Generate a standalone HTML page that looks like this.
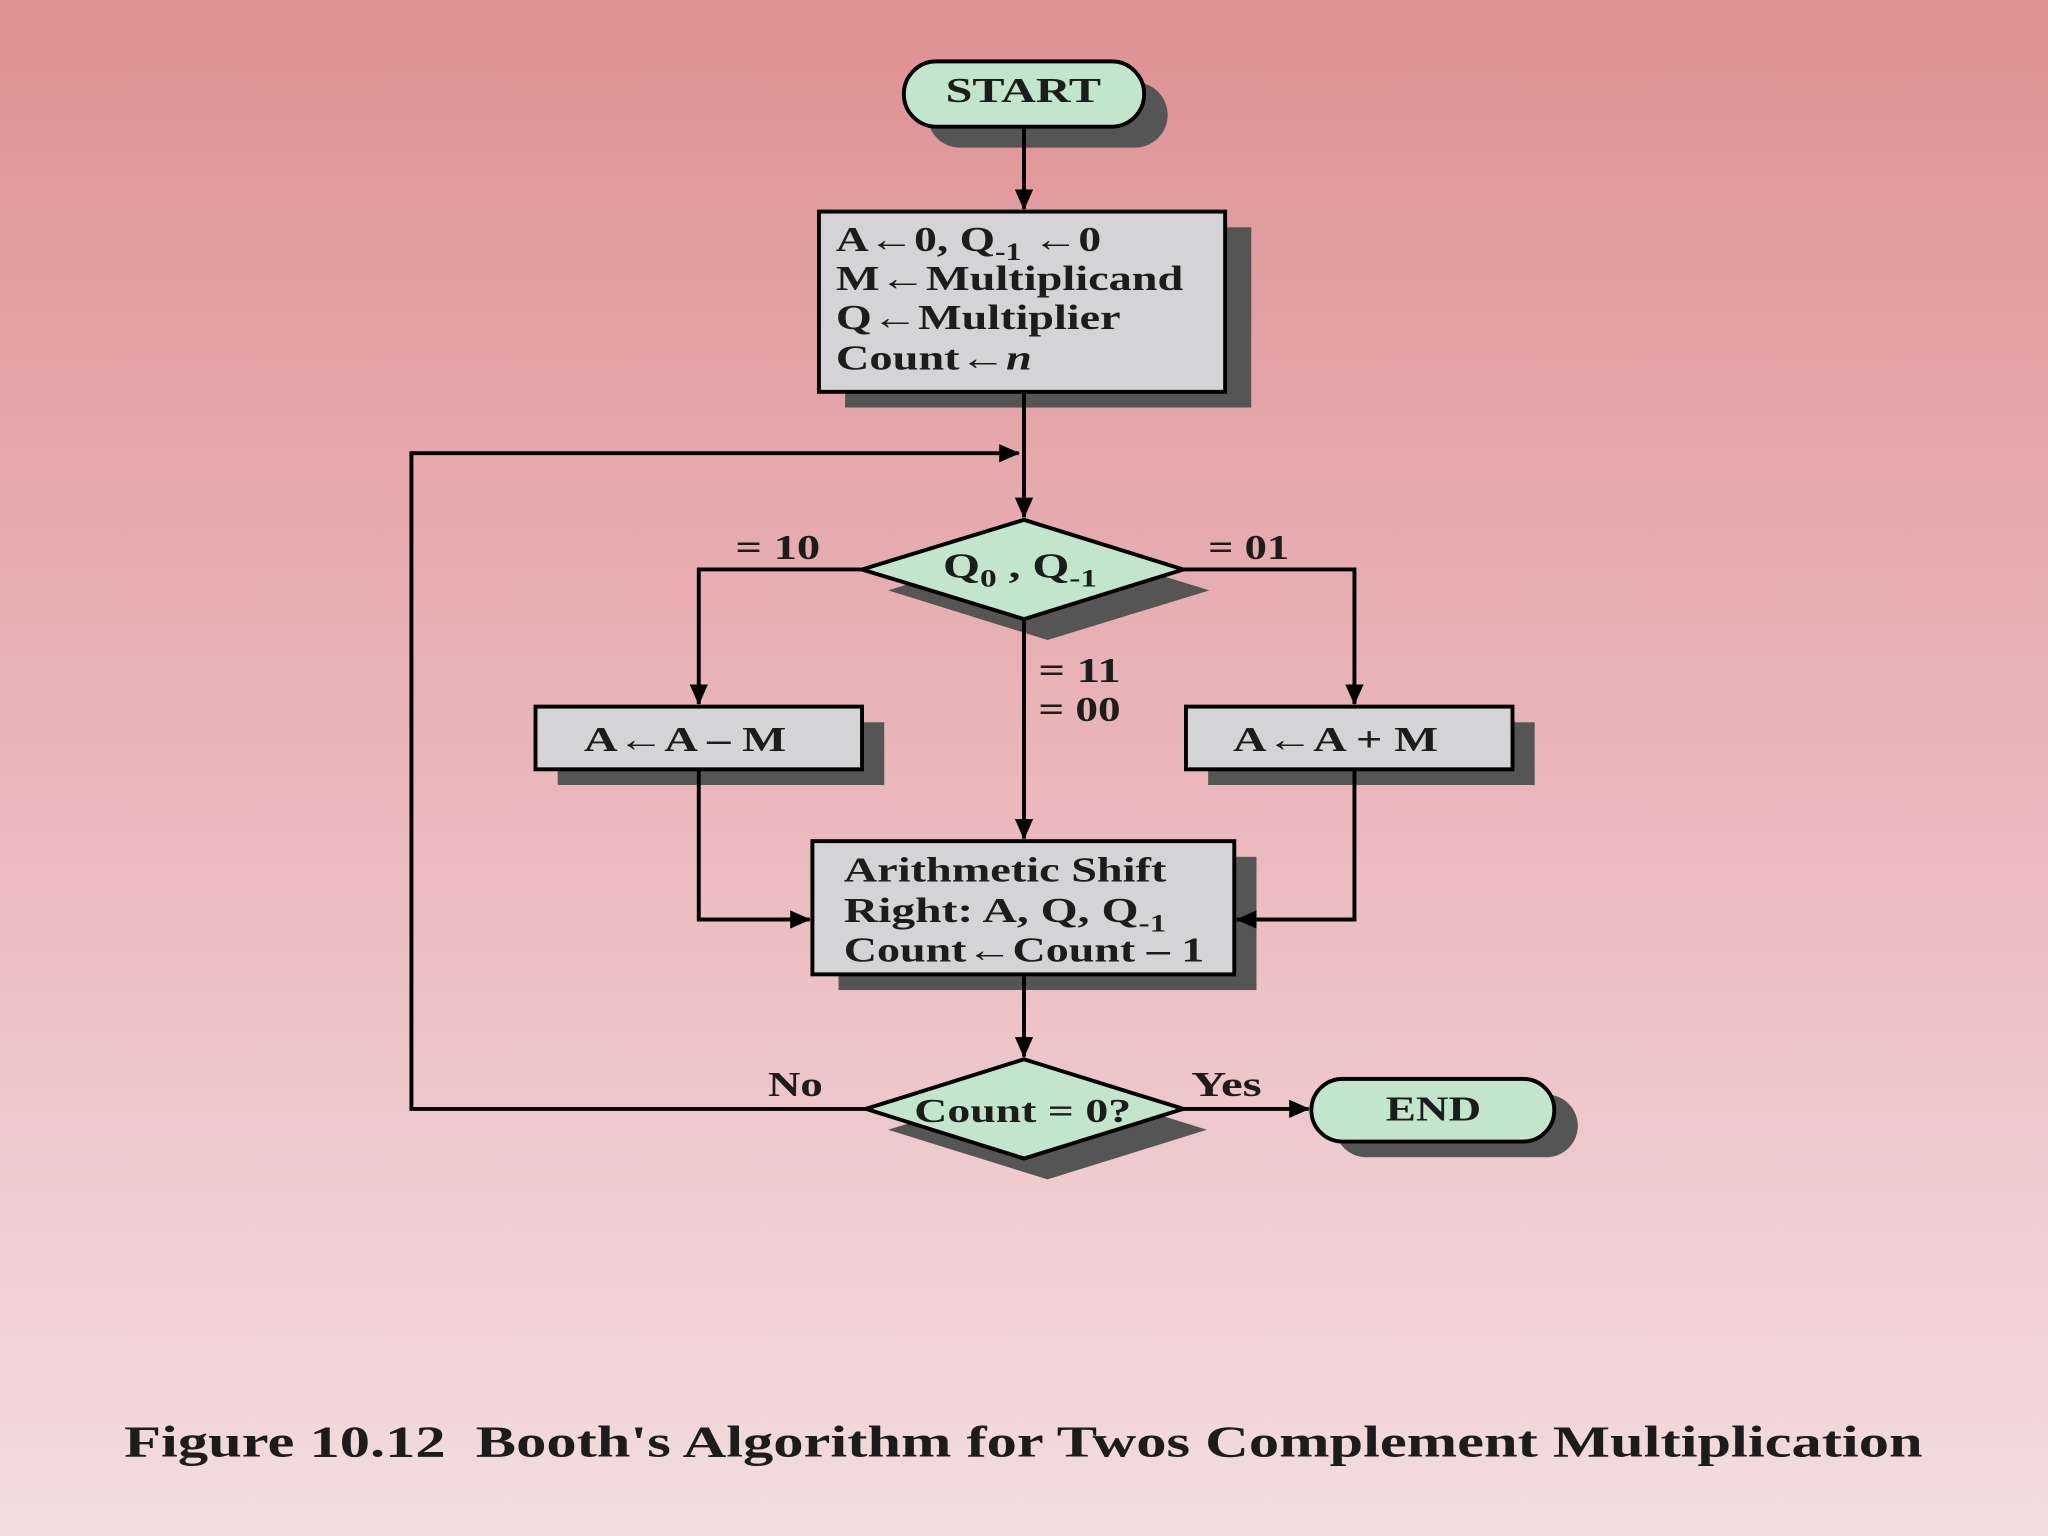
<!DOCTYPE html>
<html><head><meta charset="utf-8"><style>
html,body{margin:0;padding:0;width:2048px;height:1536px;overflow:hidden}
svg{display:block}
text{font-family:"Liberation Serif",serif;font-weight:bold;fill:#1c1c1c}
</style></head><body>
<svg width="2048" height="1536" viewBox="0 0 1568 1176" xmlns="http://www.w3.org/2000/svg">
<defs>
<linearGradient id="bg" x1="0" y1="0" x2="0" y2="1">
<stop offset="0" stop-color="#df9193"/>
<stop offset="0.55" stop-color="#ebbabe"/>
<stop offset="1" stop-color="#f3dde0"/>
</linearGradient>
<marker id="ar" markerWidth="16" markerHeight="16" refX="15" refY="8" orient="auto" markerUnits="userSpaceOnUse" viewBox="0 0 16 16">
<path d="M0,1 L16,8 L0,15 z" fill="#000"/>
</marker>
</defs>
<rect x="0" y="0" width="1568" height="1176" fill="url(#bg)"/>
<g fill="#555">
<rect x="710" y="63" width="184" height="50" rx="25"/>
<rect x="647" y="174" width="311" height="138"/>
<polygon points="680,452 802,414 926,452 802,490"/>
<rect x="427" y="553" width="250" height="48"/>
<rect x="925" y="553" width="250" height="48"/>
<rect x="642" y="656" width="320" height="102"/>
<polygon points="680,865 802,827 924,865 802,903"/>
<rect x="1022" y="838" width="186" height="48" rx="24"/>
</g>
<g stroke="#000" stroke-width="3">
<rect x="692" y="47" width="184" height="50" rx="25" fill="#c3e5cb"/>
<rect x="627" y="162" width="311" height="138" fill="#d4d4d6"/>
<polygon points="660,436 784,398 906,436 784,474" fill="#c3e5cb"/>
<rect x="410" y="541" width="250" height="48" fill="#d4d4d6"/>
<rect x="908" y="541" width="250" height="48" fill="#d4d4d6"/>
<rect x="622" y="644" width="323" height="102" fill="#d4d4d6"/>
<polygon points="663,849 784,811 906,849 784,887" fill="#c3e5cb"/>
<rect x="1004" y="826" width="186" height="48" rx="24" fill="#c3e5cb"/>
</g>
<g stroke="#000" stroke-width="3" fill="none">
<line x1="784" y1="97" x2="784" y2="160" marker-end="url(#ar)"/>
<line x1="784" y1="300" x2="784" y2="396" marker-end="url(#ar)"/>
<polyline points="663,849 315,849 315,347 780,347" marker-end="url(#ar)"/>
<polyline points="660,436 535,436 535,539" marker-end="url(#ar)"/>
<polyline points="906,436 1037,436 1037,539" marker-end="url(#ar)"/>
<line x1="784" y1="474" x2="784" y2="642" marker-end="url(#ar)"/>
<polyline points="535,589 535,704 620,704" marker-end="url(#ar)"/>
<polyline points="1037,589 1037,704 947,704" marker-end="url(#ar)"/>
<line x1="784" y1="746" x2="784" y2="809" marker-end="url(#ar)"/>
<line x1="906" y1="849" x2="1002" y2="849" marker-end="url(#ar)"/>
</g>
<g font-size="27" lengthAdjust="spacingAndGlyphs">
<text x="724" y="78" fill="#143a1e" textLength="119" lengthAdjust="spacingAndGlyphs">START</text>
<text x="640" y="192" textLength="203" lengthAdjust="spacingAndGlyphs">A←0, Q<tspan font-size="19" dy="7">-1</tspan><tspan dy="-7"> ←0</tspan></text>
<text x="640" y="222" textLength="266" lengthAdjust="spacingAndGlyphs">M←Multiplicand</text>
<text x="640" y="252" textLength="218" lengthAdjust="spacingAndGlyphs">Q←Multiplier</text>
<text x="640" y="283" textLength="150" lengthAdjust="spacingAndGlyphs">Count←<tspan font-style="italic">n</tspan></text>
<text x="722" y="442" fill="#143a1e" textLength="118" lengthAdjust="spacingAndGlyphs">Q<tspan font-size="19" dy="7">0</tspan><tspan dy="-7"> , Q</tspan><tspan font-size="19" dy="7">-1</tspan></text>
<text x="563" y="428" textLength="65" lengthAdjust="spacingAndGlyphs">= 10</text>
<text x="925" y="428" textLength="62" lengthAdjust="spacingAndGlyphs">= 01</text>
<text x="795" y="522" textLength="63" lengthAdjust="spacingAndGlyphs">= 11</text>
<text x="795" y="552" textLength="63" lengthAdjust="spacingAndGlyphs">= 00</text>
<text x="447" y="575" textLength="155" lengthAdjust="spacingAndGlyphs">A←A – M</text>
<text x="944" y="575" textLength="157" lengthAdjust="spacingAndGlyphs">A←A + M</text>
<text x="646" y="675" textLength="247" lengthAdjust="spacingAndGlyphs">Arithmetic Shift</text>
<text x="646" y="706" textLength="247" lengthAdjust="spacingAndGlyphs">Right: A, Q, Q<tspan font-size="19" dy="7">-1</tspan></text>
<text x="646" y="736" textLength="276" lengthAdjust="spacingAndGlyphs">Count←Count – 1</text>
<text x="700" y="859" fill="#143a1e" font-size="26" textLength="166" lengthAdjust="spacingAndGlyphs">Count = 0?</text>
<text x="588" y="839" textLength="42" lengthAdjust="spacingAndGlyphs">No</text>
<text x="912" y="839" textLength="54" lengthAdjust="spacingAndGlyphs">Yes</text>
<text x="1061" y="858" fill="#143a1e" textLength="73" lengthAdjust="spacingAndGlyphs">END</text>
<text x="95" y="1115" font-size="34" textLength="1377" lengthAdjust="spacingAndGlyphs" xml:space="preserve">Figure 10.12  Booth's Algorithm for Twos Complement Multiplication</text>
</g>
</svg>
</body></html>
